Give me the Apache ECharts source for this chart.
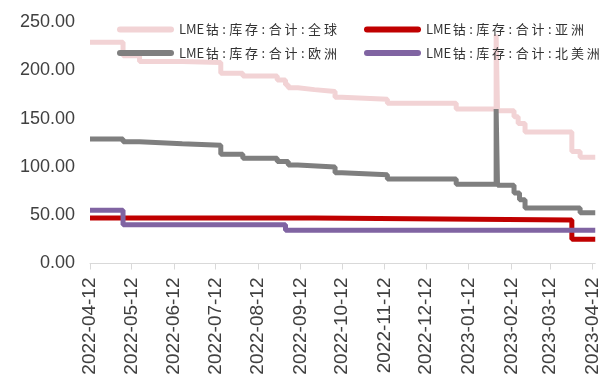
<!DOCTYPE html>
<html>
<head>
<meta charset="utf-8">
<script src="https://cdn.jsdelivr.net/npm/echarts@6/dist/echarts.min.js"></script>
<style>
  html, body { margin: 0; padding: 0; background: #fff; }
  #chart { width: 602px; height: 386px; }
</style>
</head>
<body>
<div id="chart"></div>
<script>
// LME cobalt warehouse stocks (tonnes); each series is stored at the dates where the level changes
const seriesNames = ['LME钴:库存:合计:全球', 'LME钴:库存:合计:亚洲', 'LME钴:库存:合计:欧洲', 'LME钴:库存:合计:北美洲'];

const globalDates = ['2022-04-12', '2022-05-06', '2022-05-18', '2022-06-18', '2022-07-16', '2022-08-01', '2022-08-26',
  '2022-09-01', '2022-09-03', '2022-09-10', '2022-09-22', '2022-10-07', '2022-10-12', '2022-11-14', '2023-01-03',
  '2023-02-01', '2023-02-02', '2023-02-14', '2023-02-17', '2023-02-22', '2023-03-28', '2023-04-03', '2023-04-14'];
const globalValues = [229, 215, 209, 208, 197, 194, 190, 185, 182, 180, 178, 172, 170, 166, 160, 237, 158, 152, 145, 136, 116, 110, 110];

const asiaDates = ['2022-04-12', '2022-09-22', '2023-03-28', '2023-04-14'];
const asiaValues = [47, 45, 25, 25];

const europeDates = ['2022-04-12', '2022-05-06', '2022-05-18', '2022-06-18', '2022-07-16', '2022-08-01', '2022-08-26',
  '2022-09-03', '2022-09-10', '2022-10-07', '2022-10-12', '2022-11-14', '2023-01-03', '2023-02-01', '2023-02-02',
  '2023-02-14', '2023-02-18', '2023-02-22', '2023-04-03', '2023-04-14'];
const europeValues = [129, 126, 124, 122.5, 113, 109, 105.5, 102, 100, 94, 92, 87.5, 82, 160, 81, 73, 66, 57.5, 52.5, 52.5];

const naDates = ['2022-04-12', '2022-05-06', '2022-09-01', '2023-04-14'];
const naValues = [55, 40, 34.5, 34.5];

const tickDates = ['2022-04-12', '2022-05-12', '2022-06-12', '2022-07-12', '2022-08-12', '2022-09-12', '2022-10-12',
  '2022-11-12', '2022-12-12', '2023-01-12', '2023-02-12', '2023-03-12', '2023-04-12'];
const axisStart = '2022-04-12';
const axisEnd = '2023-04-14';

const colors = ['#F2D3D5', '#C00000', '#7F7F7F', '#8064A2'];

// dates are placed on a linear axis in days counted from the first date
const DAY = 86400000;
const origin = Date.UTC(2022, 3, 12);
function dayNum(s) {
  const p = s.split('-').map(Number);
  return Math.round((Date.UTC(p[0], p[1] - 1, p[2]) - origin) / DAY);
}
function pad(n) { return (n < 10 ? '0' : '') + n; }
function fmt(v) {
  const d = new Date(origin + Math.round(v) * DAY);
  return d.getUTCFullYear() + '-' + pad(d.getUTCMonth() + 1) + '-' + pad(d.getUTCDate());
}
function pairs(dates, values) {
  return dates.map((d, i) => [dayNum(d), values[i]]);
}

const seriesData = [
  pairs(globalDates, globalValues),
  pairs(asiaDates, asiaValues),
  pairs(europeDates, europeValues),
  pairs(naDates, naValues)
];
const tickValues = tickDates.map(dayNum);

// legend labels: CJK characters and colons get extra tracking
function spacedLabel(name) {
  return name.split('').map((ch) => {
    if (ch === ':') return '{p|' + ch + '}';
    if (/[A-Za-z]/.test(ch)) return '{a|' + ch + '}';
    return '{k|' + ch + '}';
  }).join('');
}
const legendFont = { fontFamily: 'Noto Sans CJK SC', fontSize: 13, color: '#333' };

const legendIcon = 'path://M3,0 L54,0 A3,3 0 0 1 54,6 L3,6 A3,3 0 0 1 3,0 Z';
const legendPos = [[117, 22.5], [364, 22.5], [117, 46], [364, 46]];

const chart = echarts.init(document.getElementById('chart'), null, { renderer: 'canvas' });
chart.setOption({
  animation: false,
  backgroundColor: '#ffffff',
  grid: { left: 90, right: 6, top: 22, bottom: 122.5 },
  legend: seriesNames.map((name, i) => ({
    data: [name],
    left: legendPos[i][0],
    top: legendPos[i][1],
    padding: 0,
    icon: legendIcon,
    itemWidth: 57,
    itemHeight: 6,
    selectedMode: false,
    formatter: spacedLabel,
    textStyle: Object.assign({
      lineHeight: 14,
      rich: {
        a: Object.assign({ lineHeight: 14 }, legendFont),
        k: Object.assign({ lineHeight: 14, padding: [0, 1.4] }, legendFont),
        p: Object.assign({ lineHeight: 14, padding: [0, 2.1] }, legendFont)
      }
    }, legendFont)
  })),
  xAxis: {
    type: 'value',
    min: dayNum(axisStart),
    max: dayNum(axisEnd),
    axisLine: { show: true, lineStyle: { color: '#D9D9D9', width: 1 } },
    axisTick: { show: true, length: 6, lineStyle: { color: '#D9D9D9' }, customValues: tickValues },
    splitLine: { show: false },
    axisLabel: {
      customValues: tickValues,
      rotate: 90,
      margin: 14,
      fontFamily: 'Liberation Sans',
      fontSize: 19,
      color: '#404040',
      formatter: (v) => fmt(v)
    }
  },
  yAxis: {
    type: 'value',
    min: 0,
    max: 250,
    interval: 50,
    axisLine: { show: false },
    axisTick: { show: false },
    splitLine: { show: false },
    axisLabel: {
      margin: 15,
      fontFamily: 'Liberation Sans',
      fontSize: 18,
      color: '#404040',
      formatter: (v) => v.toFixed(2)
    }
  },
  series: seriesNames.map((name, i) => ({
    name: name,
    type: 'line',
    step: 'end',
    showSymbol: false,
    symbol: 'none',
    color: colors[i],
    lineStyle: { color: colors[i], width: 5 },
    data: seriesData[i]
  }))
});
</script>
</body>
</html>
